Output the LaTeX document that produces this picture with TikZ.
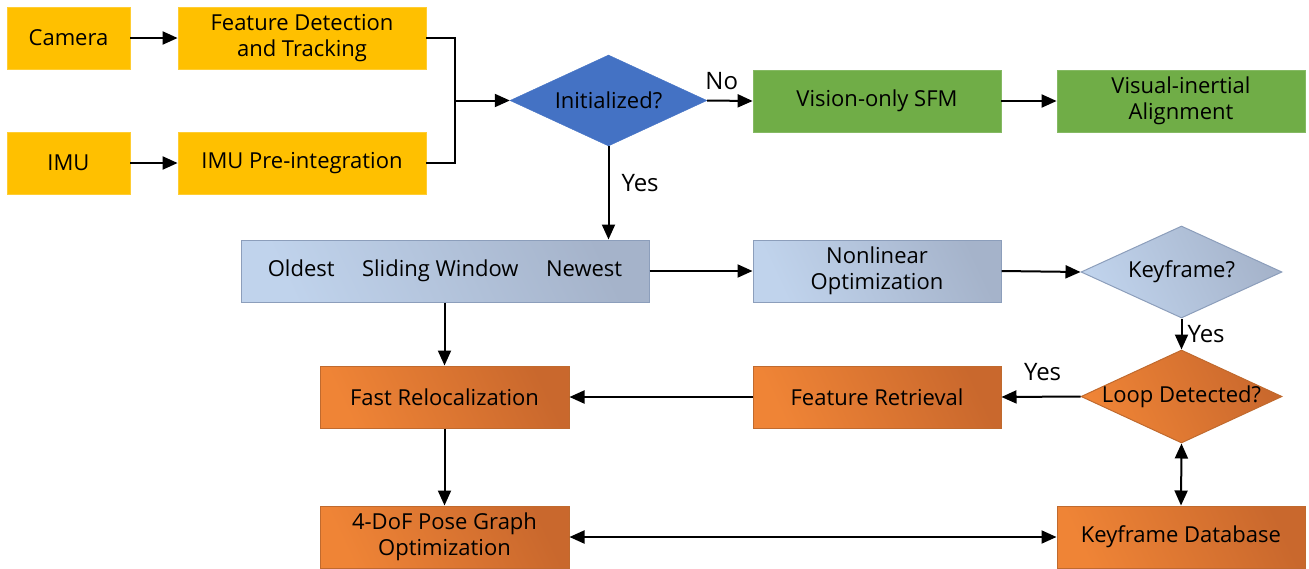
\documentclass[tikz,border=0pt]{standalone}
\usepackage{fontspec}
\setmainfont{Open Sans}
\usetikzlibrary{shapes.geometric,arrows.meta}

\definecolor{boxyellow}{HTML}{FFC000}
\definecolor{diamblue}{HTML}{4472C4}
\definecolor{boxgreen}{HTML}{70AD47}
\definecolor{greyA}{HTML}{C0D3EC}
\definecolor{greyB}{HTML}{A5B3CA}
\definecolor{greyEdge}{HTML}{8C9EBB}
\definecolor{orangeA}{HTML}{EF8436}
\definecolor{orangeB}{HTML}{C9682D}
\definecolor{orangeEdge}{HTML}{C06A2E}

% zero-width text so a diamond keeps its own size
\newcommand{\zwtext}[1]{\makebox[0pt]{#1}}

\tikzset{
  base/.style={inner sep=0pt, align=center, font=\fontsize{22}{26}\selectfont},
  ybox/.style={base, rectangle, fill=boxyellow, draw=boxyellow!80!white, line width=0.8pt},
  gbox/.style={base, rectangle, fill=boxgreen, draw=boxgreen!85!white, line width=0.8pt},
  bluebox/.style={base, rectangle, draw=greyEdge, line width=1pt,
    shading=axis, left color=greyA, right color=greyB, shading angle=115},
  obox/.style={base, rectangle, draw=orangeEdge, line width=1pt,
    shading=axis, left color=orangeA, right color=orangeB, shading angle=115},
  decision/.style={base, diamond, aspect=2.2},
  wide/.style={minimum width=248pt, minimum height=62pt},
  small/.style={minimum width=123pt, minimum height=62pt},
  arr/.style={line width=2pt, -{Triangle[length=15pt,width=13pt]}},
  darr/.style={line width=2pt, {Triangle[length=15pt,width=13pt]}-{Triangle[length=15pt,width=13pt]}},
  lnk/.style={line width=2pt},
  lbl/.style={font=\fontsize{24}{28}\selectfont, inner sep=0pt}
}

\begin{document}
\begin{tikzpicture}[x=1pt,y=-1pt]
\useasboundingbox (0,0) rectangle (1309,568);

% sensor inputs and front end
\node[ybox, small] (cam) at (68.5,38) {Camera};
\node[ybox, wide] (fdt) at (302,38) {Feature Detection\\and Tracking};
\node[ybox, small] (imu) at (68.5,163) {IMU};
\node[ybox, wide] (pre) at (302,163) {IMU Pre-integration};

% initialization branch
\node[decision, fill=diamblue, draw=diamblue, minimum width=197pt, minimum height=91pt] (init) at (608.5,100.5) {\zwtext{Initialized?}};
\node[gbox, wide] (sfm) at (877,101) {Vision-only SFM};
\node[gbox, wide] (via) at (1181,101) {Visual-inertial\\Alignment};

% estimator
\node[bluebox, minimum width=408pt, minimum height=62pt] (win) at (445,271)
  {Oldest\hspace{1.25em}Sliding Window\hspace{1.25em}Newest};
\node[bluebox, wide] (nlo) at (877,271) {Nonlinear\\Optimization};
\node[decision, draw=greyEdge, line width=1pt, shading=axis, left color=greyA, right color=greyB,
  shading angle=115, minimum width=201pt, minimum height=92pt] (key) at (1181.5,272) {\zwtext{Keyframe?}};

% loop closure
\node[decision, draw=orangeEdge, line width=1pt, shading=axis, left color=orangeA, right color=orangeB,
  shading angle=115, minimum width=201pt, minimum height=93pt] (loop) at (1181.5,396.5) {\zwtext{Loop Detected?}};
\node[obox, wide] (ret) at (877,397) {Feature Retrieval};
\node[obox, minimum width=249pt, minimum height=62pt] (rel) at (444.5,397) {Fast Relocalization};
\node[obox, minimum width=249pt, minimum height=62pt] (pg) at (444.5,537) {4-DoF Pose Graph\\Optimization};
\node[obox, wide] (kdb) at (1181,537) {Keyframe Database};

\coordinate (join) at (455,100.5);

% connectors
\draw[arr] (cam) -- (fdt);
\draw[arr] (imu) -- (pre);
\draw[lnk] (fdt.east) -| (join);
\draw[lnk] (pre.east) -| (join);
\draw[arr] (join) -- (init.west);
\draw[arr] (init.east) -- (sfm.west) node[lbl, pos=0.32, above=10pt] {No};
\draw[arr] (sfm) -- (via);
\draw[arr] (init.south) -- (init.south |- win.north) node[lbl, pos=0.4, right=12pt] {Yes};
\draw[arr] (win) -- (nlo);
\draw[arr] (nlo.east) -- (key.west);
\draw[arr] (key.south) -- (loop.north) node[lbl, midway, right=5pt] {Yes};
\draw[arr] (loop.west) -- (ret.east) node[lbl, pos=0.48, above=15pt] {Yes};
\draw[arr] (ret) -- (rel);
\draw[arr] (win.south -| rel.north) -- (rel.north);
\draw[arr] (rel) -- (pg);
\draw[darr] (pg) -- (kdb);
\draw[darr] (loop.south) -- (kdb.north);
\end{tikzpicture}
\end{document}
